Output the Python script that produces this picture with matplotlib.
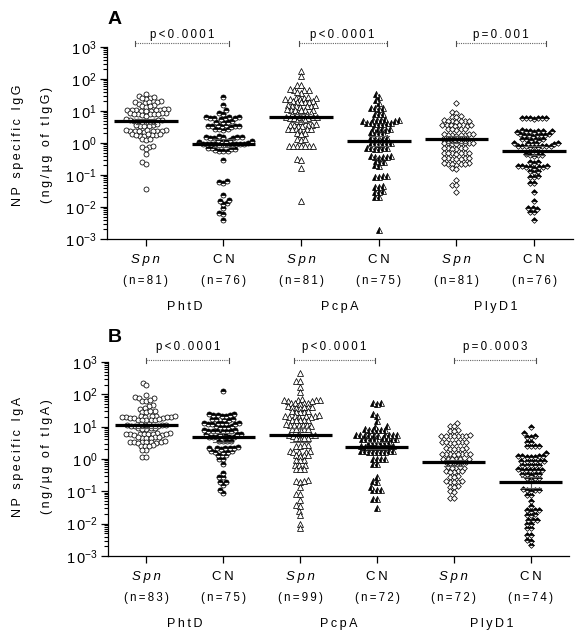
import numpy as np
import matplotlib.pyplot as plt
from matplotlib.transforms import blended_transform_factory

plt.rcParams['font.family'] = ['Liberation Sans', 'DejaVu Sans']
plt.rcParams['mathtext.fontset'] = 'custom'
plt.rcParams['mathtext.rm'] = 'Liberation Sans'

# ---- IgG (panel A), ng/ug of total IgG ----
igg_phtd_spn = [35, 30, 26, 24, 25, 27,
                19, 18, 20, 17, 18.5, 19.5,
                14, 15, 13.5, 14.5,
                10.5, 11, 10, 11.5, 10.8, 10.2, 11.2, 9.8, 10.6, 10.4,
                8.0, 8.5, 7.8, 8.2, 7.5, 8.8, 7.2, 8.4, 7.9, 8.1,
                5.2, 5.5, 4.8, 5.0, 5.3, 4.6, 4.9, 5.1, 4.4, 4.7,
                3.6, 3.8, 3.4, 3.5, 3.7, 3.3,
                2.4, 2.5, 2.3, 2.45, 2.35, 2.55, 2.2, 2.6, 2.4, 2.3,
                1.8, 1.75, 1.85, 1.7, 1.9, 1.8, 1.65, 1.95,
                1.3, 1.25, 1.35,
                0.77, 0.75, 0.8, 0.63, 0.45, 0.26, 0.22, 0.036]
igg_phtd_cn = [27, 15, 10.7, 8.6, 8.3,
               6.3, 6.0, 6.2, 6.4, 5.9, 6.1, 6.5, 5.8,
               4.7, 4.5, 4.9, 4.6,
               3.4, 3.3, 3.5, 3.6, 3.2, 3.45, 3.3, 3.55,
               2.7, 2.6, 2.8, 2.65,
               1.5, 1.45, 1.55, 1.6, 1.4, 1.5, 1.45, 1.55,
               1.15, 1.2, 1.1, 1.25, 1.12, 1.18,
               0.93, 0.95, 0.9, 0.92, 0.96, 0.88, 0.94, 0.91, 0.97, 0.89, 0.93, 0.9,
               0.68, 0.7, 0.65, 0.66, 0.56, 0.58, 0.55, 0.6,
               0.3,
               0.062, 0.058, 0.065, 0.023, 0.015, 0.016, 0.013, 0.012, 0.009, 0.0063, 0.006, 0.004]
igg_pcpa_spn = [182, 124, 66, 63, 47, 45, 48, 44, 37, 38,
                25, 26, 24, 25.5, 24.5, 26.5, 23.5,
                19.5, 20, 19, 18.5, 20.5, 19.8,
                14.5, 15, 14, 14.8, 14.2, 15.3, 13.8,
                10.7, 11, 10.4, 10.9, 10.5, 11.2,
                8.1, 8.3, 7.9, 8.5, 7.7,
                6.3, 6.5, 6.1, 6.4, 6.2, 6.6, 6.0,
                5.0, 5.1, 4.9,
                3.6, 3.5, 3.7, 3.65, 3.55, 3.4, 3.8,
                2.7, 2.6, 2.8, 2.75, 2.65, 2.7,
                2.0, 2.05, 1.95,
                1.3, 1.28, 1.32,
                0.81, 0.8, 0.82, 0.83, 0.79, 0.81, 0.8,
                0.31, 0.3, 0.17, 0.015]
igg_pcpa_cn = [35, 28, 22, 18,
               12, 12.5, 11.8, 12.2,
               8.1, 8.3, 7.9,
               5.2, 5.4, 5.0, 5.3, 5.1, 5.5, 4.9,
               4.1, 4.0, 4.2, 3.9, 4.3, 4.05, 4.15,
               2.7, 2.8, 2.6, 2.75, 2.65,
               2.1, 2.0, 2.2, 2.05,
               1.4, 1.45, 1.35, 1.5, 1.3,
               0.98, 1.0, 0.95, 0.97, 1.02, 0.99,
               0.68, 0.7, 0.66, 0.69, 0.67, 0.72,
               0.37, 0.38, 0.36, 0.39, 0.35, 0.37,
               0.26, 0.25, 0.27,
               0.2, 0.19,
               0.089, 0.09, 0.087, 0.092,
               0.043, 0.044, 0.042,
               0.030, 0.031, 0.029,
               0.021, 0.02,
               0.0019]
igg_plyd1_spn = [18, 9.0, 8.8, 6.6, 6.5, 6.8,
                 4.9, 5.0, 4.8, 5.1, 4.7, 4.95, 4.85,
                 3.6, 3.7, 3.5, 3.65, 3.55, 3.75, 3.45,
                 2.7, 2.8, 2.6, 2.75, 2.65,
                 1.8, 1.85, 1.75, 1.9, 1.7, 1.82, 1.78, 1.88,
                 1.3, 1.32, 1.28, 1.35, 1.25, 1.31, 1.29,
                 0.98, 1.0, 0.96, 0.99, 0.97, 1.01, 0.95, 0.98,
                 0.68, 0.7, 0.66, 0.69, 0.67, 0.71,
                 0.48, 0.49, 0.47, 0.5, 0.46, 0.48, 0.49,
                 0.33, 0.34, 0.32, 0.335, 0.325, 0.31, 0.35,
                 0.22, 0.23, 0.21, 0.225, 0.215, 0.22, 0.23,
                 0.16, 0.155, 0.069, 0.049, 0.048, 0.030]
igg_plyd1_cn = [5.9, 5.8, 6.0, 5.9, 5.85, 5.95, 6.0,
                2.6, 2.3, 2.35, 2.25, 2.4, 2.2, 2.3, 2.35,
                1.8, 1.85, 1.75, 1.9, 1.7, 1.82, 1.78, 1.8,
                1.3, 1.32, 1.28, 1.35, 1.25, 1.3,
                0.98, 1.0, 0.96, 0.99, 0.97, 1.01,
                0.78, 0.8, 0.76, 0.79, 0.77, 0.81, 0.75, 0.78, 0.82,
                0.42, 0.43, 0.41, 0.44, 0.4,
                0.25, 0.26, 0.24,
                0.18, 0.185, 0.175, 0.18, 0.19, 0.17, 0.18, 0.185,
                0.13, 0.125, 0.135,
                0.089, 0.09, 0.088,
                0.058, 0.057, 0.030, 0.015,
                0.009, 0.0092, 0.0088, 0.0071, 0.007, 0.0039]

# ---- IgA (panel B), ng/ug of total IgA ----
iga_phtd_spn = [220, 200, 95, 80, 78, 76, 63, 62, 65, 45, 44, 37, 36,
                29, 30, 28, 29.5,
                20, 21, 19.5, 20.5, 19, 21.5, 18.5, 20.2, 19.8, 22, 18, 20.8,
                16, 16.5, 15.5, 16.2, 15.8, 17,
                11, 11.5, 10.8, 11.2, 10.5, 11.8, 11.3, 10.7, 12,
                8.9, 9.2, 8.6, 9.0, 8.7,
                5.9, 6.0, 5.8, 6.2, 5.7, 6.1, 5.85, 6.3, 5.6, 6.05, 5.95,
                4.6, 4.7, 4.5, 4.65, 4.55, 4.8,
                3.3, 3.4, 3.2, 3.35, 3.25, 3.45, 3.15, 3.3, 3.5,
                2.6, 2.5, 2.7, 2.55,
                1.9, 1.95, 1.18, 1.15]
iga_phtd_cn = [126,
               23, 24, 22, 23.5, 22.5, 24.5, 21.5,
               17, 17.5, 16.5, 17.2, 16.8,
               12.6, 13, 12.2, 12.8, 12.4, 13.2, 12, 12.6,
               10, 10.3, 9.8, 10.1, 9.9,
               7.4, 7.6, 7.2, 7.5, 7.3, 7.7, 7.1, 7.4,
               5.8, 5.9, 5.7, 5.85, 5.75,
               4.7, 4.8, 4.6, 4.75, 4.65, 4.7,
               3.6, 3.7, 3.5, 3.65,
               2.2, 2.25, 2.15, 2.3, 2.1, 2.2, 2.25,
               1.7, 1.75, 1.65, 1.72, 1.68,
               1.3, 1.28, 1.32,
               1.0, 0.98,
               0.69, 0.36, 0.28, 0.27, 0.2, 0.19, 0.16, 0.11, 0.091]
iga_pcpa_spn = [450, 260, 250, 165, 116,
                66, 68, 64, 67, 65, 69, 63,
                53, 54, 52, 55, 51,
                40, 41, 39, 42, 38, 40.5, 39.5,
                29, 30, 28, 29.5, 28.5,
                21, 22, 20, 21.5, 20.5, 22.5, 19.5, 21,
                16, 16.5, 15.5, 16.2, 15.8,
                11.2, 11.5, 10.9, 11.4, 11, 11.7, 10.7,
                8.5, 8.7, 8.3, 8.6, 8.4,
                5.5, 5.6, 5.4, 5.7, 5.3,
                4.4, 4.5, 4.3, 4.45,
                2.6, 2.7, 2.5, 2.65,
                1.7, 1.75, 1.65, 1.8, 1.6,
                1.3, 1.28, 1.32, 1.26,
                0.93, 0.95, 0.91,
                0.65, 0.66, 0.64,
                0.49, 0.5, 0.48,
                0.21, 0.22, 0.2, 0.215,
                0.14, 0.081, 0.08, 0.054, 0.038, 0.034, 0.025, 0.019, 0.010, 0.0072]
iga_pcpa_cn = [53, 55, 51, 24, 22, 15, 10, 10.2,
               7.9, 8.1, 7.7, 8.0, 7.8, 8.2,
               5.5, 5.6, 5.4, 5.65, 5.35, 5.5, 5.7, 5.3, 5.55, 5.45,
               4.2, 4.3, 4.1, 4.25, 4.15, 4.35, 4.05, 4.2,
               3.3, 3.35, 3.25, 3.4, 3.2, 3.3,
               2.4, 2.45, 2.35, 2.5, 2.3, 2.42, 2.38, 2.48, 2.32,
               1.7, 1.75, 1.65, 1.72, 1.68, 1.78, 1.62, 1.7, 1.74,
               1.0, 1.02, 0.98, 1.01,
               0.69, 0.7, 0.28, 0.2, 0.21, 0.14, 0.11, 0.112, 0.108, 0.058, 0.057, 0.031]
iga_plyd1_spn = [12.6, 10.7, 10.5, 7.4, 7.6, 7.2,
                 5.2, 5.3, 5.1, 5.25, 5.15, 5.35, 5.05, 5.2,
                 3.3, 3.4, 3.2, 3.35, 3.25, 3.45, 3.15,
                 2.1, 2.15, 2.05, 2.2, 2.0, 2.1,
                 1.4, 1.42, 1.38, 1.45, 1.35, 1.41, 1.39, 1.44,
                 1.0, 1.02, 0.98, 1.01, 0.99, 1.03,
                 0.78, 0.79, 0.77, 0.8, 0.76, 0.78,
                 0.54, 0.55, 0.53, 0.56, 0.52,
                 0.41, 0.42, 0.4, 0.415, 0.405,
                 0.28, 0.29, 0.27,
                 0.2, 0.205, 0.195, 0.21, 0.19,
                 0.14, 0.145, 0.135,
                 0.10, 0.098, 0.063, 0.062]
iga_plyd1_cn = [10, 6.2, 4.9, 5.0, 4.8, 3.3, 3.4, 2.5, 2.55, 2.45, 2.6, 1.5,
                1.2, 1.22, 1.18, 1.24, 1.16, 1.21, 1.19,
                0.87, 0.88, 0.86, 0.89, 0.85, 0.87,
                0.65, 0.66, 0.64, 0.67, 0.63,
                0.46, 0.47, 0.45, 0.48, 0.44, 0.465, 0.455,
                0.34, 0.35, 0.33, 0.345, 0.335,
                0.25, 0.26, 0.24, 0.255,
                0.11, 0.112, 0.108, 0.115, 0.105,
                0.078, 0.076, 0.05, 0.036,
                0.026, 0.027, 0.025, 0.0265,
                0.019, 0.0195, 0.0185,
                0.013, 0.0133, 0.0127,
                0.010, 0.0098, 0.0072, 0.0071, 0.0045, 0.0044, 0.0031, 0.003, 0.0022]

# medians and 95% CI
igg_median = [4.8, 0.93, 6.3, 1.17, 1.3, 0.57]
igg_ci_low = [3.9, 0.75, 4.6, 0.8, 1.0, 0.42]
igg_ci_high = [5.6, 1.3, 8.2, 1.6, 1.6, 0.78]
iga_median = [11.2, 4.9, 5.5, 2.4, 0.78, 0.19]
iga_ci_low = [9.0, 3.4, 3.3, 2.0, 0.6, 0.13]
iga_ci_high = [14, 6.5, 9.3, 3.3, 0.9, 0.28]

groups = ['Spn', 'CN', 'Spn', 'CN', 'Spn', 'CN']
antigens = ['PhtD', 'PcpA', 'PlyD1']
igg_pvals = ['p<0.0001', 'p<0.0001', 'p=0.001']
iga_pvals = ['p<0.0001', 'p<0.0001', 'p=0.0003']

igg_data = [igg_phtd_spn, igg_phtd_cn, igg_pcpa_spn, igg_pcpa_cn, igg_plyd1_spn, igg_plyd1_cn]
iga_data = [iga_phtd_spn, iga_phtd_cn, iga_pcpa_spn, iga_pcpa_cn, iga_plyd1_spn, iga_plyd1_cn]

markers = ['o', 'o', '^', '^', 'D', 'D']
fills = ['full', 'top', 'full', 'left', 'full', 'top']
msizes = [3.6, 3.6, 4.0, 4.0, 2.9, 2.9]


def sp(s):
    # GraphPad-like letter spacing
    return '\u2009'.join(s)


def swarm(vals, sx, sy, d):
    y = np.log10(vals) * sy
    xs = np.zeros(len(y))
    px, py = [], []
    for i in np.argsort(y):
        cands = [0.0]
        for a, b in zip(px, py):
            dy = y[i] - b
            if abs(dy) < d:
                dx = np.sqrt(d * d - dy * dy)
                cands += [a - dx, a + dx]
        cands.sort(key=abs)
        for c in cands:
            if all((c - a) ** 2 + (y[i] - b) ** 2 >= d * d - 1e-6 for a, b in zip(px, py)):
                break
        xs[i] = c
        px.append(c)
        py.append(y[i])
    return xs / sx


def panel(ax, data, med, lo, hi, pvals, brackets, yb, yt, sx, sy):
    for i, vals in enumerate(data):
        off = swarm(vals, sx, sy, 4.1)
        ax.plot(i + off, vals, linestyle='none', marker=markers[i], fillstyle=fills[i],
                markerfacecolor='white' if fills[i] == 'full' else 'black',
                markerfacecoloralt='white', markeredgecolor='black',
                markersize=msizes[i], markeredgewidth=0.55, zorder=3)
        ax.plot([i, i], [lo[i], hi[i]], color='0.35', lw=0.8, zorder=4)
        for v in (lo[i], hi[i]):
            ax.plot([i - 0.13, i + 0.13], [v, v], color='0.35', lw=0.8, zorder=4)
        ax.plot([i - 0.41, i + 0.41], [med[i], med[i]], color='black', lw=2.3,
                solid_capstyle='butt', zorder=5)
    for (x0, x1), p in zip(brackets, pvals):
        ax.plot([x0, x1], [yb, yb], color='0.4', lw=0.8, ls=(0, (1, 1)), clip_on=False)
        for x in (x0, x1):
            ax.plot([x, x], [yb / 1.22, yb * 1.12], color='0.3', lw=0.8, clip_on=False)
        ax.text((x0 + x1) / 2, yt, sp(p), ha='center', va='center', fontsize=8.3)

    ax.set_yscale('log')
    ax.set_ylim(1e-3, 1e3)
    ax.set_xlim(-0.5, 5.5)
    ax.set_yticks([10.0 ** k for k in range(-3, 4)])
    ax.set_yticklabels([r'$\mathregular{1\,0^{%d}}$' % k for k in range(-3, 4)], fontsize=10.5)
    ax.set_yticks([m * 10.0 ** k for k in range(-3, 3) for m in range(2, 10)], minor=True)
    ax.yaxis.set_minor_formatter(plt.NullFormatter())
    ax.set_xticks(range(6))
    ax.set_xticklabels([])
    ax.tick_params(axis='y', which='major', length=5, width=0.9, pad=2)
    ax.tick_params(axis='y', which='minor', length=3, width=0.8)
    ax.tick_params(axis='x', length=5, width=0.9)
    for s in ('top', 'right'):
        ax.spines[s].set_visible(False)
    for s in ('left', 'bottom'):
        ax.spines[s].set_linewidth(0.9)

    tr = blended_transform_factory(ax.transData, ax.transAxes)
    for i, g in enumerate(groups):
        ax.text(i, -0.11, sp(g), transform=tr, ha='center', va='center', fontsize=9.5,
                fontstyle='italic' if g == 'Spn' else 'normal')
        ax.text(i, -0.218, sp('(n=%d)' % len(data[i])), transform=tr, ha='center',
                va='center', fontsize=8.3)
    for j, a in enumerate(antigens):
        ax.text(2 * j + 0.5, -0.352, sp(a), transform=tr, ha='center', va='center', fontsize=9)


fig = plt.figure(figsize=(5.77, 6.37), dpi=100)
axA = fig.add_axes([0.1854, 0.6248, 0.8076, 0.3014])
axB = fig.add_axes([0.1872, 0.1272, 0.7990, 0.3046])

panel(axA, igg_data, igg_median, igg_ci_low, igg_ci_high, igg_pvals,
      [(-0.14, 1.07), (1.97, 3.10), (4.0, 5.15)], 10 ** 3.125, 10 ** 3.39, 77.6, 32.0)
panel(axB, iga_data, iga_median, iga_ci_low, iga_ci_high, iga_pvals,
      [(0.0, 1.08), (1.92, 2.97), (4.0, 5.07)], 10 ** 3.06, 10 ** 3.47, 76.8, 32.3)

fig.text(115 / 577, 1 - 20 / 637, 'A', fontsize=14, fontweight='bold', ha='center', va='center')
fig.text(115 / 577, 1 - 338 / 637, 'B', fontsize=14, fontweight='bold', ha='center', va='center')
for yc, ig in ((145, 'IgG'), (457, 'IgA')):
    fig.text(18 / 577, 1 - yc / 637, sp('NP specific ' + ig), rotation=90,
             ha='center', va='center', fontsize=9)
    fig.text(47 / 577, 1 - yc / 637, sp('(ng/µg of t' + ig + ')'), rotation=90,
             ha='center', va='center', fontsize=9)

fig.savefig('out.png', dpi=100)
